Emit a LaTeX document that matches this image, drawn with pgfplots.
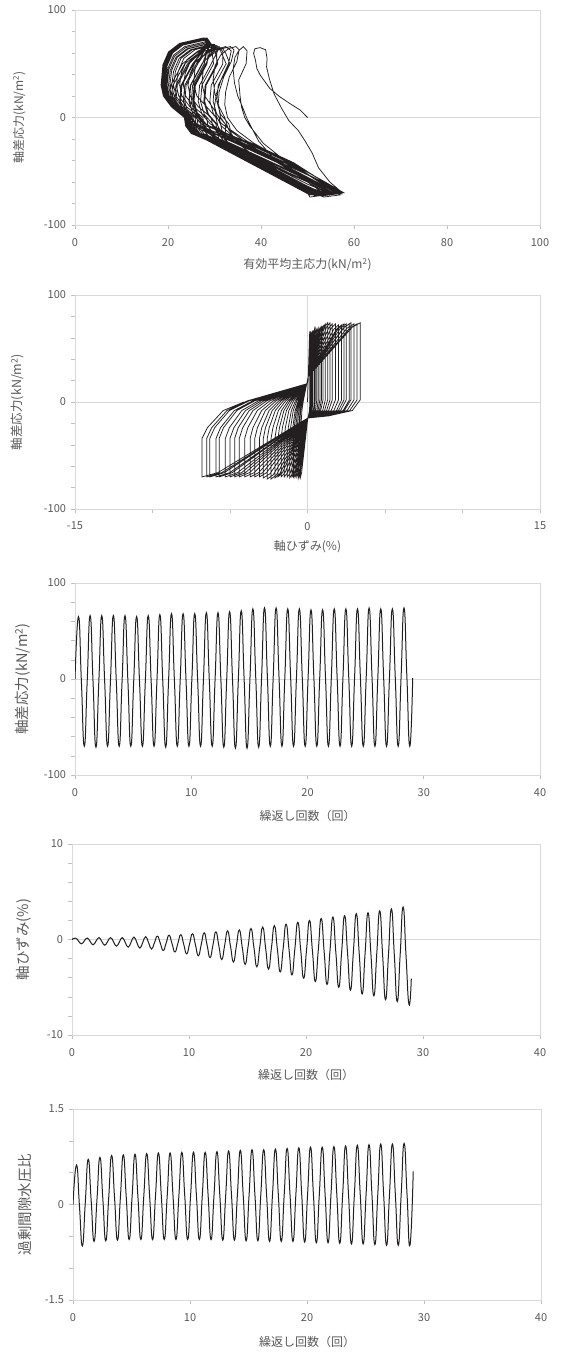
\documentclass[border=0pt]{standalone}
\usepackage{fontspec}
\setmainfont{Noto Sans CJK JP}
\usepackage{pgfplots}
\pgfplotsset{compat=1.18}
\definecolor{axgray}{HTML}{D9D9D9}
\definecolor{tkgray}{HTML}{BFBFBF}
\definecolor{txtgray}{HTML}{595959}
\definecolor{ln}{HTML}{231F20}
\pgfplotsset{
  excel/.style={
    scale only axis,
    axis line style={draw=axgray, line width=0.8pt},
    tick style={color=tkgray, line width=0.6pt},
    major tick length=3.5pt, minor tick length=3.5pt,
    tick align=outside, tick pos=left,
    ticklabel style={font=\fontsize{11}{13}\selectfont, text=txtgray},
    xticklabel style={yshift=-6pt},
    yticklabel style={xshift=-2pt},
    label style={font=\fontsize{12}{14}\selectfont, text=txtgray},
    ymajorgrids, major grid style={draw=axgray, line width=0.8pt},
    clip=true,
  },
  bigylab/.style={ylabel style={font=\fontsize{14.5}{16}\selectfont}},
}
\begin{document}
\begin{tikzpicture}
\useasboundingbox (0,0) rectangle (562pt,-1354pt);
% ---------------- Panel 1 ----------------
\begin{axis}[excel, at={(75pt,-225pt)}, anchor=south west, width=465pt, height=215pt,
  xmin=0, xmax=100, ymin=-100, ymax=100,
  xtick={0,20,40,60,80,100}, xticklabels={0,20,40,60,80,100},
  ytick={-100,0,100}, yticklabels={-100,0,100},
  minor ytick={-80,-60,-40,-20,20,40,60,80},
  xlabel={有効平均主応力(kN/m\textsuperscript{2})},
  ylabel={軸差応力(kN/m\textsuperscript{2})},
  xlabel style={at={(axis description cs:0.5,-0.186)}, anchor=center},
  ylabel style={at={(axis description cs:-0.120,0.5)}, anchor=center}]
\addplot[ln, line width=0.75pt] coordinates {
(50,0) (48.4,7) (46.2,13) (44,19.4) (41.9,27) (40.9,33) (39.8,39.6) (39.1,45.7) (38.8,53.5) (38.4,59.7) (38.7,64) (39.8,65)
(41,63) (41.3,55) (41.2,47) (41.8,36) (42.8,22) (44.5,8) (46,-3) (48,-12) (49.5,-22) (51,-33) (52.4,-47) (54.8,-60) (57.5,-70)
(55,-69) (51,-61) (46.5,-50) (42.5,-37) (39.5,-22) (37.8,-8) (36.9,0) (36,10) (35,20) (34.3,32) (34,45) (34.4,56) (35.2,62) (36.2,66)
(37,62) (36.8,50) (35.2,35) (35.5,20) (35.8,10) (36.5,0) (37.6,-8) (40.5,-24) (44.1,-36.5) (48.4,-49) (52,-58) (54.5,-64) (57.2,-71)
(54.5,-70) (50,-62) (44.5,-50) (39,-37) (35,-24) (33,-11) (32.2,0) (31,10) (30.1,22) (29.7,35) (30.1,48) (31.3,58) (33,64) (34.6,66)
(35.3,63) (34.8,52) (33.2,38) (32.4,24) (32.2,12) (32.8,0) (34.8,-12) (38.5,-24) (43,-35) (47.5,-47) (51.5,-57) (54.5,-64) (56.8,-70)
(54,-70) (48.6,-63) (42,-50) (36.5,-37) (33,-25) (31.6,-12) (31,0) (29.5,10) (27.9,20) (27.3,32) (27.6,45) (28.8,56) (30.8,63) (33.4,66)
(34.2,63) (33.6,52) (32,38) (31,24) (30.8,12) (31.3,0) (33.3,-12) (37,-24) (41.5,-36) (46,-48) (50.5,-58) (54,-65) (56.5,-70)
(53.5,-71) (47.8,-63) (41.5,-49) (36,-35) (32.5,-23) (30.9,-11) (30.3,0) (28.3,10) (26.2,20) (25.5,32) (25.8,45) (27,55) (29,62) (32.4,66)
(33.6,62) (33,50) (31.5,36) (30.4,22) (30,10) (30.3,2) (31.5,-8) (35.2,-22) (45.2,-42) (53.2,-60) (57.2,-70) (53.7,-72) (47.1,-63) (37.5,-41) (31.8,-21) (30.8,-15) (29.6,-8)
(29.3,0) (26.5,10) (24.8,20) (24.3,30) (24.7,40) (25.9,52) (28.3,60) (31.6,65)
(32.4,60) (33.3,50) (30.8,30) (30.5,15) (31.3,3) (33.1,-6)
(34.0,-22) (44.0,-42) (52.0,-60) (56.0,-70)
(52.5,-72) (46.6,-63) (37.0,-41) (30.8,-21) (29.8,-15) (28.6,-8)
(28.3,0) (25.5,10) (23.8,20) (23.3,30) (23.7,41) (24.9,53) (27.3,61) (31.0,66)
(31.8,61) (31.8,50) (29.3,30) (29.0,15) (29.8,3) (31.6,-6)
(37.0,-22) (47.0,-42) (53.5,-60) (57.5,-70)
(54.0,-72) (48.6,-63) (39.0,-41) (30.3,-21) (29.0,-15) (27.8,-8)
(27.5,0) (24.7,10) (23.0,20) (22.5,30) (22.9,42) (24.1,54) (26.5,62) (30.5,67)
(31.3,62) (32.5,50) (30.0,30) (29.7,15) (30.5,3) (32.3,-6)
(32.5,-22) (42.5,-42) (51.5,-60) (55.5,-71)
(52.0,-73) (47.1,-63) (37.5,-41) (29.3,-21) (28.3,-15) (27.1,-8)
(26.8,0) (24.0,10) (22.3,20) (21.8,30) (22.2,43) (23.4,55) (25.8,63) (30.0,68)
(30.8,63) (29.3,50) (26.8,30) (26.5,15) (27.3,3) (29.1,-6)
(35.3,-22) (45.3,-42) (52.8,-60) (56.8,-70)
(53.3,-72) (49.1,-63) (39.5,-41) (30.8,-21) (27.7,-15) (26.5,-8)
(26.2,0) (23.4,10) (21.7,20) (21.2,30) (21.6,43) (22.8,55) (25.2,63) (29.7,68)
(30.5,63) (30.5,50) (28.0,30) (27.7,15) (28.5,3) (30.3,-6)
(31.0,-22) (41.0,-42) (50.5,-60) (54.5,-70)
(51.0,-72) (47.6,-63) (38.0,-41) (29.3,-21) (27.3,-15) (26.1,-8)
(25.8,0) (23.0,10) (21.3,20) (20.8,30) (21.2,43) (22.4,55) (24.8,63) (29.4,68)
(30.2,63) (27.3,50) (24.8,30) (24.5,15) (25.4,3) (27.1,-6)
(36.6,-22) (46.6,-42) (53.6,-60) (57.6,-70)
(54.1,-72) (49.6,-63) (40.0,-41) (31.3,-21) (26.9,-15) (25.7,-8)
(25.4,0) (22.6,10) (20.9,20) (20.4,30) (20.8,44) (22.0,56) (24.4,64) (29.2,69)
(30.0,64) (30.7,50) (28.2,30) (27.9,15) (28.7,3) (30.5,-6)
(32.5,-22) (42.5,-42) (51.0,-60) (55.0,-70)
(51.5,-72) (46.6,-63) (37.0,-41) (28.3,-21) (26.6,-15) (25.4,-8)
(25.1,0) (22.3,10) (20.6,20) (20.1,30) (20.5,44) (21.7,56) (24.1,64) (29.0,69)
(29.8,64) (28.1,50) (25.6,30) (25.3,15) (26.1,3) (27.9,-6)
(36.5,-22) (46.5,-42) (52.5,-60) (56.5,-71)
(53.0,-73) (48.1,-63) (38.5,-41) (29.8,-21) (26.3,-15) (25.1,-8)
(24.8,0) (22.0,10) (20.3,20) (19.8,30) (20.2,45) (21.4,57) (23.8,65) (28.8,70)
(29.6,65) (25.5,50) (23.0,30) (22.7,15) (24.4,3) (26.0,-6)
(31.0,-22) (41.0,-42) (50.0,-60) (54.0,-72)
(50.5,-74) (49.1,-63) (39.5,-41) (30.8,-21) (26.1,-15) (24.9,-8)
(24.6,0) (21.8,10) (20.1,20) (19.6,30) (20.0,46) (21.2,58) (23.6,66) (28.6,71)
(29.4,66) (28.3,50) (25.8,30) (25.5,15) (26.3,3) (28.1,-6)
(35.0,-22) (45.0,-42) (53.0,-60) (57.0,-72)
(53.5,-74) (47.1,-63) (37.5,-41) (28.8,-21) (25.9,-15) (24.7,-8)
(24.4,0) (21.6,10) (19.9,20) (19.4,30) (19.8,48) (21.0,60) (23.4,68) (28.5,73)
(29.3,68) (26.4,50) (23.9,30) (23.6,15) (24.4,3) (26.2,-6)
(34.5,-22) (44.5,-42) (51.0,-60) (55.0,-71)
(51.5,-73) (49.6,-63) (40.0,-41) (31.3,-21) (25.8,-15) (24.6,-8)
(24.3,0) (21.5,10) (19.8,20) (19.3,30) (19.7,49) (20.9,61) (23.3,69) (28.4,74)
(29.2,69) (29.8,50) (27.3,30) (27.0,15) (27.8,3) (29.6,-6)
(32.0,-22) (42.0,-42) (51.5,-60) (55.5,-70)
(52.0,-72) (47.6,-63) (38.0,-41) (29.3,-21) (25.7,-15) (24.5,-8)
(24.2,0) (21.4,10) (19.7,20) (19.2,30) (19.6,49) (20.8,61) (23.2,69) (28.3,74)
(29.1,69) (24.5,50) (22.0,30) (21.7,15) (23.8,3) (25.4,-6)
(35.3,-22) (45.3,-42) (52.8,-60) (56.8,-70)
(53.3,-72) (48.6,-63) (39.0,-41) (30.3,-21) (25.6,-15) (24.4,-8)
(24.1,0) (21.3,10) (19.6,20) (19.1,30) (19.5,48) (20.7,60) (23.1,68) (28.2,73)
(29.0,68) (27.4,50) (24.9,30) (24.6,15) (25.4,3) (27.2,-6)
(31.5,-22) (41.5,-42) (50.0,-60) (54.0,-70)
(50.5,-72) (46.6,-63) (37.0,-41) (28.3,-21) (25.5,-15) (24.3,-8)
(24.0,0) (21.2,10) (19.5,20) (19.0,30) (19.4,48) (20.6,60) (23.0,68) (28.1,73)
(28.9,68) (25.3,50) (22.8,30) (22.5,15) (23.6,3) (25.2,-6)
(33.5,-22) (43.5,-42) (50.5,-60) (54.5,-70)
(51.0,-72) (49.1,-63) (39.5,-41) (30.8,-21) (25.4,-15) (24.2,-8)
(23.9,0) (21.1,10) (19.4,20) (18.9,30) (19.3,47) (20.5,59) (22.9,67) (28.0,72)
(28.8,67) (28.4,50) (25.9,30) (25.6,15) (26.4,3) (28.2,-6)
(34.3,-22) (44.3,-42) (53.3,-60) (57.3,-70)
(53.8,-72) (48.1,-63) (38.5,-41) (29.8,-21) (25.4,-15) (24.2,-8)
(23.9,0) (21.1,10) (19.4,20) (18.9,30) (19.3,47) (20.5,59) (22.9,67) (28.0,72)
(28.8,67) (23.6,50) (21.1,30) (20.9,15) (23.5,3) (25.1,-6)
(34.0,-22) (44.0,-42) (50.0,-60) (54.0,-70)
(50.5,-72) (47.1,-63) (37.5,-41) (28.8,-21) (25.3,-15) (24.1,-8)
(23.8,0) (21.0,10) (19.3,20) (18.8,30) (19.2,48) (20.4,60) (22.8,68) (27.9,73)
(28.7,68) (26.1,50) (23.6,30) (23.3,15) (24.1,3) (25.9,-6)
(33.5,-22) (43.5,-42) (51.5,-60) (55.5,-70)
(52.0,-72) (49.6,-63) (40.0,-41) (31.3,-21) (25.3,-15) (24.1,-8)
(23.8,0) (21.0,10) (19.3,20) (18.8,30) (19.2,48) (20.4,60) (22.8,68) (27.9,73)
(28.7,68) (27.8,50) (25.3,30) (25.0,15) (25.8,3) (27.6,-6)
(30.5,-22) (40.5,-42) (50.0,-60) (54.0,-70)
(50.5,-72) (47.6,-63) (38.0,-41) (29.3,-21) (25.2,-15) (24.0,-8)
(23.7,0) (20.9,10) (19.2,20) (18.7,30) (19.1,48) (20.3,60) (22.7,68) (27.8,73)
(28.6,68) (24.2,50) (21.7,30) (21.4,15) (23.3,3) (24.9,-6)
(36.0,-22) (46.0,-42) (52.5,-60) (56.5,-70)
(53.0,-72) (48.6,-63) (39.0,-41) (30.3,-21) (25.2,-15) (24.0,-8)
(23.7,0) (20.9,10) (19.2,20) (18.7,30) (19.1,49) (20.3,61) (22.7,69) (27.8,74)
(28.6,69) (26.4,50) (23.9,30) (23.6,15) (24.4,3) (26.2,-6)
(31.5,-22) (41.5,-42) (50.0,-60) (54.0,-70)
(50.5,-72) (46.6,-63) (37.0,-41) (28.3,-21) (25.1,-15) (23.9,-8)
(23.6,0) (20.8,10) (19.1,20) (18.6,30) (19.0,48) (20.2,60) (22.6,68) (27.7,73)
(28.5,68) (23.1,50) (20.6,30) (20.6,15) (23.2,3) (24.8,-6)
(36.3,-22) (46.3,-42) (53.8,-60) (57.8,-70)
(54.3,-72) (49.1,-63) (39.5,-41) (30.8,-21) (25.1,-15) (23.9,-8)
(23.6,0) (20.8,10) (19.1,20) (18.6,30) (19.0,48) (20.2,60) (22.6,68) (27.7,73)
(28.5,68) (25.3,50) (22.8,30) (22.5,15) (23.2,3) (25.1,-6)
(33.5,-22) (43.5,-42) (50.5,-60) (54.5,-70)
(51.0,-72) (48.1,-63) (38.5,-41) (29.8,-21) (25.0,-15) (23.8,-8)
(23.5,0) (20.7,10) (19.0,20) (18.5,30) (18.9,49) (20.1,61) (22.5,69) (27.6,74)
(28.4,69) (24.5,50) (22.0,30) (21.7,15) (23.1,3) (24.7,-6)
(32.0,-22) (42.0,-42) (51.0,-60) (55.0,-70)
(51.5,-72) (47.1,-63) (37.5,-41) (28.8,-21) (25.0,-15) (23.8,-8) (23.5,0)
};
\end{axis}
% ---------------- Panel 2 ----------------
\begin{axis}[excel, at={(75pt,-509pt)}, anchor=south west, width=465pt, height=214pt,
  xmin=-15, xmax=15, ymin=-100, ymax=100,
  xtick={-15,0,15}, xticklabels={-15,0,15},
  minor xtick={-10,-5,5,10},
  ytick={-100,0,100}, yticklabels={-100,0,100},
  minor ytick={-80,-60,-40,-20,20,40,60,80},
  xmajorgrids,
  xlabel={軸ひずみ(\%)},
  ylabel={軸差応力(kN/m\textsuperscript{2})},
  xlabel style={at={(axis description cs:0.5,-0.178)}, anchor=center},
  ylabel style={at={(axis description cs:-0.123,0.5)}, anchor=center, font=\fontsize{12.5}{14}\selectfont}]
\addplot[ln, line width=0.75pt] coordinates {
(0,0) (0.05,24) (0.13,61) (0.15,65) (0.15,2) (0.13,-8) (0.06,-13) (0.02,-15) (-0.38,-66) (-0.45,-70) (-0.45,-34) (-0.43,-24) (-0.36,-8) (-0.27,1)
(-0.05,17) (0.05,24) (0.13,62) (0.15,66) (0.15,2) (0.13,-8) (0.06,-13) (0.02,-15) (-0.47,-67) (-0.55,-71) (-0.55,-34) (-0.52,-24) (-0.44,-8) (-0.33,1)
(-0.05,17) (0.05,24) (0.17,62) (0.2,66) (0.2,2) (0.17,-8) (0.08,-13) (0.02,-15) (-0.51,-66) (-0.6,-70) (-0.6,-34) (-0.57,-24) (-0.48,-8) (-0.36,1)
(-0.05,17) (0.05,24) (0.17,62) (0.2,66) (0.2,2) (0.17,-8) (0.08,-13) (0.02,-15) (-0.6,-66) (-0.7,-70) (-0.7,-34) (-0.67,-24) (-0.56,-8) (-0.42,1)
(-0.05,17) (0.05,24) (0.17,62) (0.2,66) (0.2,2) (0.17,-8) (0.08,-13) (0.02,-15) (-0.68,-66) (-0.8,-70) (-0.8,-34) (-0.76,-24) (-0.64,-8) (-0.48,1)
(-0.05,17) (0.05,24) (0.21,61) (0.25,65) (0.25,2) (0.21,-8) (0.1,-13) (0.02,-15) (-0.77,-66) (-0.9,-70) (-0.9,-34) (-0.86,-24) (-0.72,-8) (-0.54,1)
(-0.05,17) (0.05,24) (0.26,62) (0.3,66) (0.3,2) (0.26,-8) (0.12,-13) (0.02,-15) (-0.85,-66) (-1.0,-70) (-1.0,-34) (-0.95,-24) (-0.8,-8) (-0.6,1)
(-0.05,17) (0.05,24) (0.3,63) (0.35,67) (0.35,2) (0.3,-8) (0.14,-13) (0.02,-15) (-0.98,-67) (-1.15,-71) (-1.15,-34) (-1.09,-24) (-0.92,-8) (-0.69,1)
(-0.05,17) (0.05,24) (0.38,64) (0.45,68) (0.45,2) (0.38,-8) (0.18,-13) (0.02,-15) (-1.1,-66) (-1.3,-70) (-1.3,-34) (-1.24,-24) (-1.04,-8) (-0.78,1)
(-0.05,17) (0.05,24) (0.43,64) (0.5,68) (0.5,2) (0.43,-8) (0.2,-13) (0.02,-15) (-1.28,-66) (-1.5,-70) (-1.5,-34) (-1.43,-24) (-1.2,-8) (-0.9,1)
(-0.05,17) (0.05,24) (0.51,64) (0.6,68) (0.6,2) (0.51,-8) (0.24,-13) (0.02,-15) (-1.45,-66) (-1.7,-70) (-1.7,-34) (-1.62,-24) (-1.36,-8) (-1.02,1)
(-0.05,17) (0.05,24) (0.6,65) (0.7,69) (0.7,2) (0.6,-8) (0.28,-13) (0.02,-15) (-1.62,-66) (-1.9,-70) (-1.9,-34) (-1.81,-24) (-1.52,-8) (-1.14,1)
(-0.05,17) (0.05,24) (0.68,65) (0.8,69) (0.8,2) (0.68,-8) (0.32,-13) (0.02,-15) (-1.79,-67) (-2.1,-71) (-2.1,-34) (-2.0,-24) (-1.68,-8) (-1.26,1)
(-0.05,17) (0.05,24) (0.77,66) (0.9,70) (0.9,2) (0.77,-8) (0.36,-13) (0.02,-15) (-2.0,-68) (-2.35,-72) (-2.35,-34) (-2.23,-24) (-1.88,-8) (-1.41,1)
(-0.05,17) (0.05,24) (0.85,67) (1.0,71) (1.0,2) (0.85,-8) (0.4,-13) (0.02,-15) (-2.21,-68) (-2.6,-72) (-2.6,-34) (-2.47,-24) (-2.08,-8) (-1.56,1)
(-0.05,17) (0.05,24) (0.98,69) (1.15,73) (1.15,2) (0.98,-8) (0.46,-13) (0.02,-15) (-2.42,-67) (-2.85,-71) (-2.85,-34) (-2.71,-24) (-2.28,-8) (-1.71,1)
(-0.05,17) (0.05,24) (1.1,70) (1.3,74) (1.3,2) (1.1,-8) (0.52,-13) (0.02,-15) (-2.64,-66) (-3.1,-70) (-3.1,-34) (-2.95,-24) (-2.48,-8) (-1.86,1)
(-0.05,17) (0.05,24) (1.23,70) (1.45,74) (1.45,2) (1.23,-8) (0.58,-13) (0.02,-15) (-2.89,-66) (-3.4,-70) (-3.4,-34) (-3.23,-24) (-2.72,-8) (-2.04,1)
(-0.05,17) (0.05,24) (1.36,69) (1.6,73) (1.6,2) (1.36,-8) (0.64,-13) (0.02,-15) (-3.15,-66) (-3.7,-70) (-3.7,-34) (-3.52,-24) (-2.96,-8) (-2.22,1)
(-0.05,17) (0.05,24) (1.53,69) (1.8,73) (1.8,2) (1.53,-8) (0.72,-13) (0.02,-15) (-3.44,-66) (-4.05,-70) (-4.05,-34) (-3.85,-24) (-3.24,-8) (-2.43,1)
(-0.05,17) (0.05,24) (1.7,68) (2.0,72) (2.0,2) (1.7,-8) (0.8,-13) (0.02,-15) (-3.74,-66) (-4.4,-70) (-4.4,-34) (-4.18,-24) (-3.52,-8) (-2.64,1)
(-0.05,17) (0.05,24) (1.87,68) (2.2,72) (2.2,2) (1.87,-8) (0.88,-13) (0.02,-15) (-4.0,-66) (-4.7,-70) (-4.7,-34) (-4.47,-24) (-3.76,-8) (-2.82,1)
(-0.05,17) (0.05,24) (2.0,69) (2.35,73) (2.35,2) (2.0,-8) (0.94,-13) (0.02,-15) (-4.25,-66) (-5.0,-70) (-5.0,-34) (-4.75,-24) (-4.0,-8) (-3.0,1)
(-0.05,17) (0.05,24) (2.13,69) (2.5,73) (2.5,2) (2.13,-8) (1.0,-13) (0.02,-15) (-4.51,-66) (-5.3,-70) (-5.3,-34) (-5.04,-24) (-4.24,-8) (-3.18,1)
(-0.05,17) (0.05,24) (2.3,69) (2.7,73) (2.7,2) (2.3,-8) (1.08,-13) (0.02,-15) (-4.85,-66) (-5.7,-70) (-5.7,-34) (-5.42,-24) (-4.56,-8) (-3.42,1)
(-0.05,17) (0.05,24) (2.38,70) (2.8,74) (2.8,2) (2.38,-8) (1.12,-13) (0.02,-15) (-5.02,-66) (-5.9,-70) (-5.9,-34) (-5.61,-24) (-4.72,-8) (-3.54,1)
(-0.05,17) (0.05,24) (2.55,69) (3.0,73) (3.0,2) (2.55,-8) (1.2,-13) (0.02,-15) (-5.36,-66) (-6.3,-70) (-6.3,-34) (-5.99,-24) (-5.04,-8) (-3.78,1)
(-0.05,17) (0.05,24) (2.72,69) (3.2,73) (3.2,2) (2.72,-8) (1.28,-13) (0.02,-15) (-5.53,-66) (-6.5,-70) (-6.5,-34) (-6.18,-24) (-5.2,-8) (-3.9,1)
(-0.05,17) (0.05,24) (2.89,70) (3.4,74) (3.4,2) (2.89,-8) (1.36,-13) (0.02,-15) (-5.78,-66) (-6.8,-70) (-6.8,-34) (-6.46,-24) (-5.44,-8) (-4.1,0)
};
\end{axis}
% ---------------- Panel 3 ----------------
\begin{axis}[excel, bigylab, at={(75pt,-775pt)}, anchor=south west, width=465pt, height=192pt,
  xmin=0, xmax=40, ymin=-100, ymax=100,
  xtick={0,10,20,30,40}, xticklabels={0,10,20,30,40},
  ytick={-100,0,100}, yticklabels={-100,0,100},
  minor ytick={-80,-60,-40,-20,20,40,60,80},
  xlabel={繰返し回数（回）},
  ylabel={軸差応力(kN/m\textsuperscript{2})},
  xlabel style={at={(axis description cs:0.5,-0.214)}, anchor=center},
  ylabel style={at={(axis description cs:-0.112,0.5)}, anchor=center}]
\addplot[ln, line width=1.0pt, smooth, tension=0.9] coordinates {
(0,0)
(0.3,65) (0.55,-2.5) (0.8,-70) (1.05,-2)
(1.3,66) (1.55,-2.5) (1.8,-71) (2.05,-2.5)
(2.3,66) (2.55,-2) (2.8,-70) (3.05,-2)
(3.3,66) (3.55,-2) (3.8,-70) (4.05,-2)
(4.3,66) (4.55,-2) (4.8,-70) (5.05,-2.5)
(5.3,65) (5.55,-2.5) (5.8,-70) (6.05,-2)
(6.3,66) (6.55,-2) (6.8,-70) (7.05,-1.5)
(7.3,67) (7.55,-2) (7.8,-71) (8.05,-1.5)
(8.3,68) (8.55,-1) (8.8,-70) (9.05,-1)
(9.3,68) (9.55,-1) (9.8,-70) (10.05,-1)
(10.3,68) (10.55,-1) (10.8,-70) (11.05,-0.5)
(11.3,69) (11.55,-0.5) (11.8,-70) (12.05,-0.5)
(12.3,69) (12.55,-1) (12.8,-71) (13.05,-0.5)
(13.3,70) (13.55,-1) (13.8,-72) (14.05,-0.5)
(14.3,71) (14.55,-0.5) (14.8,-72) (15.05,0.5)
(15.3,73) (15.55,1) (15.8,-71) (16.05,1.5)
(16.3,74) (16.55,2) (16.8,-70) (17.05,2)
(17.3,74) (17.55,2) (17.8,-70) (18.05,1.5)
(18.3,73) (18.55,1.5) (18.8,-70) (19.05,1.5)
(19.3,73) (19.55,1.5) (19.8,-70) (20.05,1)
(20.3,72) (20.55,1) (20.8,-70) (21.05,1)
(21.3,72) (21.55,1) (21.8,-70) (22.05,1.5)
(22.3,73) (22.55,1.5) (22.8,-70) (23.05,1.5)
(23.3,73) (23.55,1.5) (23.8,-70) (24.05,1.5)
(24.3,73) (24.55,1.5) (24.8,-70) (25.05,2)
(25.3,74) (25.55,2) (25.8,-70) (26.05,1.5)
(26.3,73) (26.55,1.5) (26.8,-70) (27.05,1.5)
(27.3,73) (27.55,1.5) (27.8,-70) (28.05,2)
(28.3,74) (28.55,2) (28.8,-70) (29.05,1)
};
\end{axis}
% ---------------- Panel 4 ----------------
\begin{axis}[excel, bigylab, at={(72pt,-1035pt)}, anchor=south west, width=468pt, height=191pt,
  xmin=0, xmax=40, ymin=-10, ymax=10,
  xtick={0,10,20,30,40}, xticklabels={0,10,20,30,40},
  ytick={-10,0,10}, yticklabels={-10,0,10},
  minor ytick={-8,-6,-4,-2,2,4,6,8},
  xlabel={繰返し回数（回）},
  ylabel={軸ひずみ(\%)},
  xlabel style={at={(axis description cs:0.5,-0.209)}, anchor=center},
  ylabel style={at={(axis description cs:-0.103,0.5)}, anchor=center}]
\addplot[ln, line width=1.0pt, smooth, tension=0.9] coordinates {
(0,0)
(0.3,0.15) (0.55,-0.15) (0.8,-0.45) (1.05,-0.15)
(1.3,0.15) (1.55,-0.2) (1.8,-0.55) (2.05,-0.18)
(2.3,0.2) (2.55,-0.2) (2.8,-0.6) (3.05,-0.2)
(3.3,0.2) (3.55,-0.25) (3.8,-0.7) (4.05,-0.25)
(4.3,0.2) (4.55,-0.3) (4.8,-0.8) (5.05,-0.28)
(5.3,0.25) (5.55,-0.33) (5.8,-0.9) (6.05,-0.3)
(6.3,0.3) (6.55,-0.35) (6.8,-1.0) (7.05,-0.33)
(7.3,0.35) (7.55,-0.4) (7.8,-1.15) (8.05,-0.35)
(8.3,0.45) (8.55,-0.43) (8.8,-1.3) (9.05,-0.4)
(9.3,0.5) (9.55,-0.5) (9.8,-1.5) (10.05,-0.45)
(10.3,0.6) (10.55,-0.55) (10.8,-1.7) (11.05,-0.5)
(11.3,0.7) (11.55,-0.6) (11.8,-1.9) (12.05,-0.55)
(12.3,0.8) (12.55,-0.65) (12.8,-2.1) (13.05,-0.6)
(13.3,0.9) (13.55,-0.73) (13.8,-2.35) (14.05,-0.68)
(14.3,1.0) (14.55,-0.8) (14.8,-2.6) (15.05,-0.73)
(15.3,1.15) (15.55,-0.85) (15.8,-2.85) (16.05,-0.78)
(16.3,1.3) (16.55,-0.9) (16.8,-3.1) (17.05,-0.83)
(17.3,1.45) (17.55,-0.98) (17.8,-3.4) (18.05,-0.9)
(18.3,1.6) (18.55,-1.05) (18.8,-3.7) (19.05,-0.95)
(19.3,1.8) (19.55,-1.13) (19.8,-4.05) (20.05,-1.03)
(20.3,2.0) (20.55,-1.2) (20.8,-4.4) (21.05,-1.1)
(21.3,2.2) (21.55,-1.25) (21.8,-4.7) (22.05,-1.18)
(22.3,2.35) (22.55,-1.33) (22.8,-5.0) (23.05,-1.25)
(23.3,2.5) (23.55,-1.4) (23.8,-5.3) (24.05,-1.3)
(24.3,2.7) (24.55,-1.5) (24.8,-5.7) (25.05,-1.45)
(25.3,2.8) (25.55,-1.55) (25.8,-5.9) (26.05,-1.45)
(26.3,3.0) (26.55,-1.65) (26.8,-6.3) (27.05,-1.55)
(27.3,3.2) (27.55,-1.65) (27.8,-6.5) (28.05,-1.55)
(28.3,3.4) (28.55,-1.7) (28.8,-6.8) (29.0,-4.1)
};
\end{axis}
% ---------------- Panel 5 ----------------
\begin{axis}[excel, bigylab, at={(73pt,-1300pt)}, anchor=south west, width=468pt, height=191pt,
  xmin=0, xmax=40, ymin=-1.5, ymax=1.5,
  xtick={0,10,20,30,40}, xticklabels={0,10,20,30,40},
  ytick={-1.5,0,1.5}, yticklabels={-1.5,0,1.5},
  minor ytick={-1,-0.5,0.5,1},
  xlabel={繰返し回数（回）},
  ylabel={過剰間隙水圧比},
  xlabel style={at={(axis description cs:0.5,-0.22)}, anchor=center},
  ylabel style={at={(axis description cs:-0.103,0.5)}, anchor=center}]
\addplot[ln, line width=1.0pt, smooth, tension=0.9] coordinates {
(0,0)
(0.3,0.62) (0.55,-0.02) (0.8,-0.65) (1.05,0.03)
(1.3,0.71) (1.55,0.07) (1.8,-0.58) (2.05,0.08)
(2.3,0.74) (2.55,0.09) (2.8,-0.57) (3.05,0.1)
(3.3,0.77) (3.55,0.11) (3.8,-0.56) (4.05,0.11)
(4.3,0.78) (4.55,0.12) (4.8,-0.55) (5.05,0.12)
(5.3,0.79) (5.55,0.12) (5.8,-0.55) (6.05,0.13)
(6.3,0.80) (6.55,0.13) (6.8,-0.55) (7.05,0.13)
(7.3,0.81) (7.55,0.13) (7.8,-0.55) (8.05,0.13)
(8.3,0.81) (8.55,0.13) (8.8,-0.55) (9.05,0.14)
(9.3,0.82) (9.55,0.14) (9.8,-0.55) (10.05,0.14)
(10.3,0.82) (10.55,0.14) (10.8,-0.55) (11.05,0.14)
(11.3,0.82) (11.55,0.14) (11.8,-0.55) (12.05,0.14)
(12.3,0.83) (12.55,0.14) (12.8,-0.56) (13.05,0.14)
(13.3,0.84) (13.55,0.14) (13.8,-0.56) (14.05,0.15)
(14.3,0.85) (14.55,0.14) (14.8,-0.57) (15.05,0.15)
(15.3,0.86) (15.55,0.15) (15.8,-0.57) (16.05,0.15)
(16.3,0.86) (16.55,0.14) (16.8,-0.58) (17.05,0.15)
(17.3,0.87) (17.55,0.15) (17.8,-0.58) (18.05,0.15)
(18.3,0.88) (18.55,0.15) (18.8,-0.58) (19.05,0.16)
(19.3,0.89) (19.55,0.15) (19.8,-0.59) (20.05,0.16)
(20.3,0.90) (20.55,0.15) (20.8,-0.60) (21.05,0.15)
(21.3,0.90) (21.55,0.15) (21.8,-0.60) (22.05,0.16)
(22.3,0.91) (22.55,0.15) (22.8,-0.61) (23.05,0.16)
(23.3,0.92) (23.55,0.15) (23.8,-0.62) (24.05,0.16)
(24.3,0.93) (24.55,0.16) (24.8,-0.62) (25.05,0.16)
(25.3,0.94) (25.55,0.16) (25.8,-0.63) (26.05,0.16)
(26.3,0.95) (26.55,0.16) (26.8,-0.64) (27.05,0.16)
(27.3,0.95) (27.55,0.16) (27.8,-0.64) (28.05,0.16)
(28.3,0.96) (28.55,0.16) (28.8,-0.64) (29.08,0.52)
};
\end{axis}
\end{tikzpicture}
\end{document}
